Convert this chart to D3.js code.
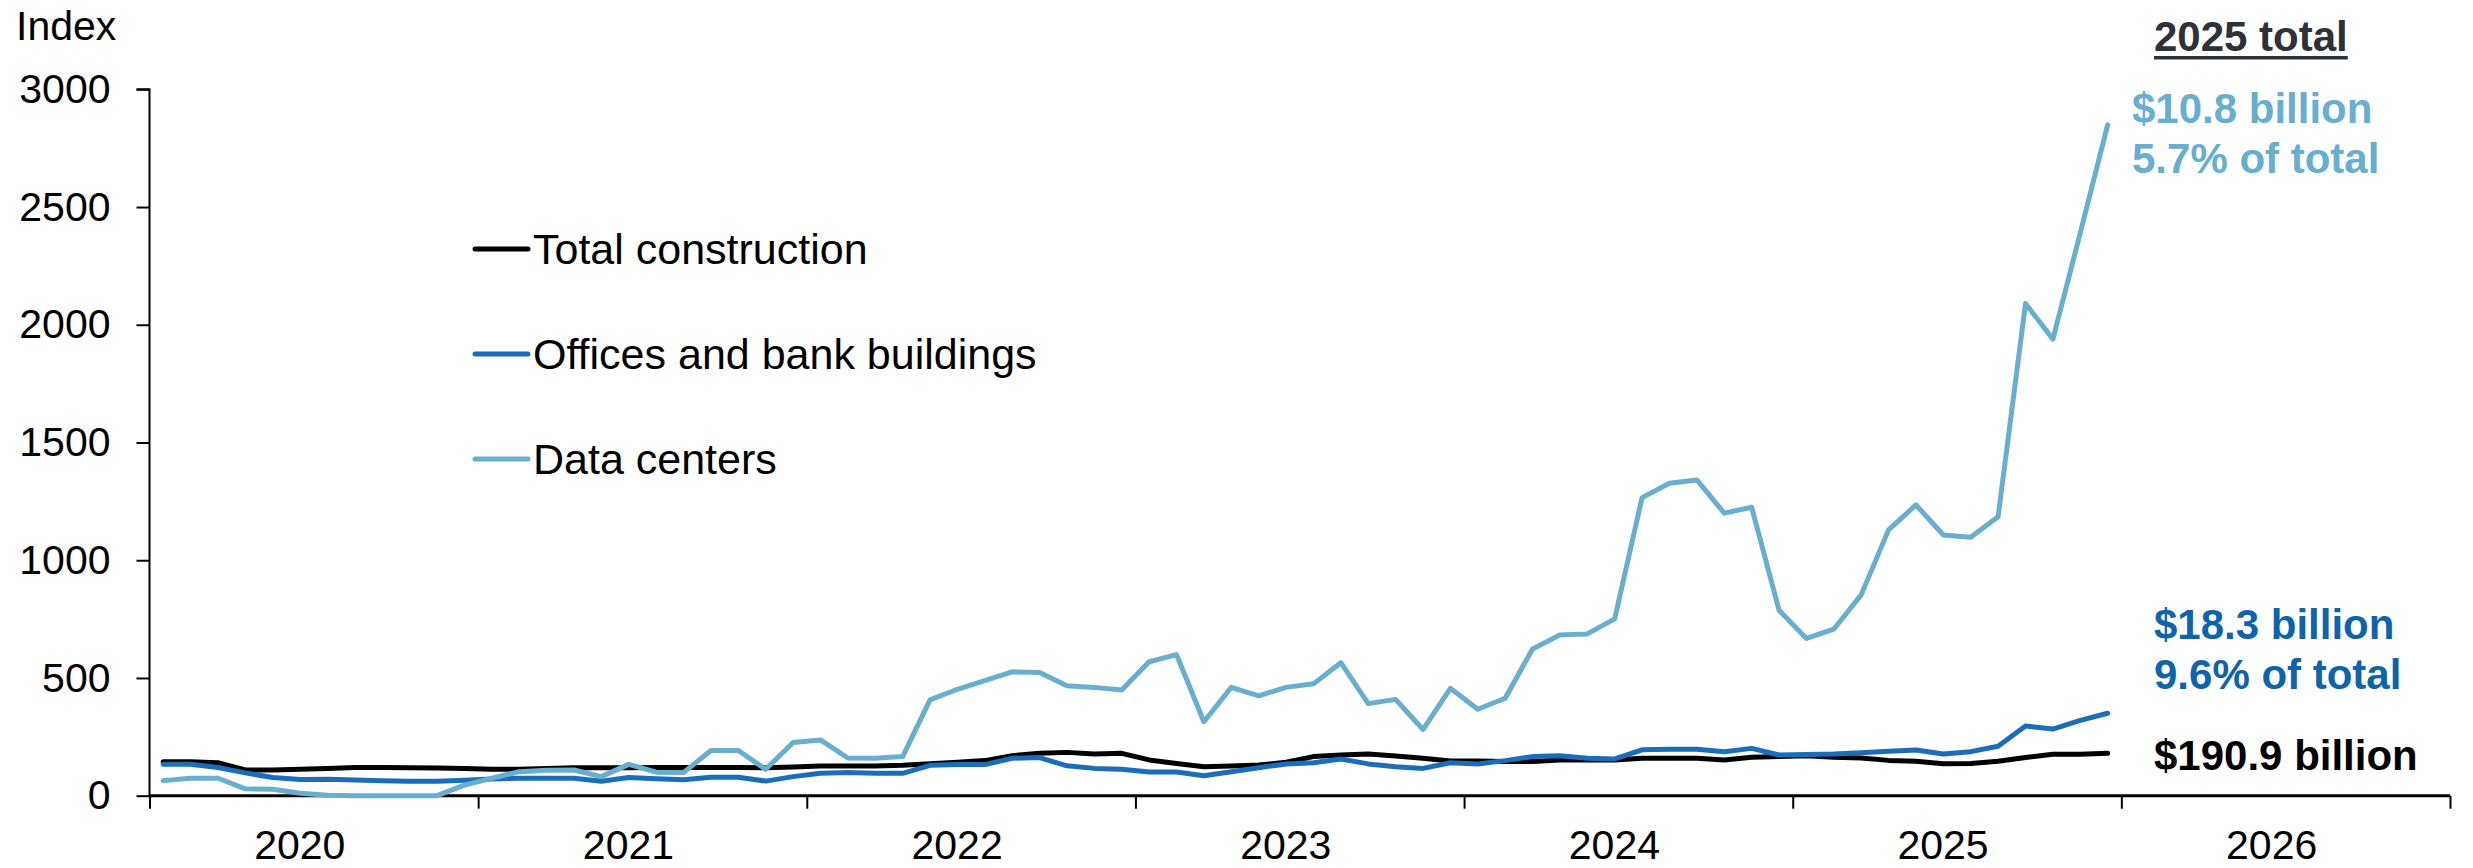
<!DOCTYPE html>
<html><head><meta charset="utf-8">
<script src="https://cdn.jsdelivr.net/npm/d3@7/dist/d3.min.js"></script>
<style>
body{margin:0;background:#fff;}
svg{display:block;}
text{font-family:"Liberation Sans",Arial,Helvetica,sans-serif;}
</style>
</head><body>
<svg id="chart" width="2473" height="868"></svg>
<script>
// ---------------- DATA ----------------
const years = ["2020","2021","2022","2023","2024","2025","2026"];
const yTicks = [0, 500, 1000, 1500, 2000, 2500, 3000];
// Monthly index values, Jan 2020 – Dec 2025
const totalConstruction = [
 144,144,140,109,109,112,115,120,120,119,118,115,
 112,112,115,119,119,119,120,120,120,120,119,122,
 126,126,126,129,136,142,149,170,180,184,177,180,
 152,137,123,126,130,142,166,173,177,169,159,147,
 147,145,145,152,152,152,159,159,159,152,163,166,
 170,163,160,150,146,136,137,146,162,176,176,180
];
const officesBank = [
 134,134,120,97,77,69,70,67,64,61,61,66,
 71,74,74,74,61,77,72,68,78,78,62,81,
 95,98,95,95,129,132,132,159,162,127,116,112,
 101,101,85,102,119,135,140,156,135,123,116,140,
 135,149,166,170,159,156,195,197,197,187,201,173,
 175,177,182,189,194,177,187,210,296,283,320,350
];
const dataCenters = [
 64,74,74,29,27,10,2,0,0,0,0,45,
 74,102,108,109,81,133,100,98,192,192,112,226,
 237,160,159,166,407,452,489,526,523,467,460,449,
 569,599,314,460,424,460,475,565,391,409,281,456,
 367,414,623,683,687,751,1266,1327,1341,1200,1225,788,
 668,707,853,1129,1235,1107,1098,1185,2090,1939,2390,2849
];
const seriesNames = ["Total construction", "Offices and bank buildings", "Data centers"];
const annoHeader = "2025 total";
const annoDataCenters = ["$10.8 billion", "5.7% of total"];
const annoOffices = ["$18.3 billion", "9.6% of total"];
const annoTotal = ["$190.9 billion"];
const yAxisTitle = "Index";

// ---------------- STYLE / LAYOUT ----------------
const colors = { total: "#000000", offices: "#1c6db9", data: "#67aecf",
                 officesText: "#0e63ab", dataText: "#67aecf", header: "#2e3136" };
const plot = { left: 149.5, right: 2450, top: 89.3, bottom: 795.7 };
const FS_AXIS = 41, FS_LEG = 43, FS_ANN = 42;
const FONT = '"Liberation Sans",Arial,sans-serif';

const svg = d3.select("#chart");

const nMonths = years.length * 12;
const x = d3.scaleLinear().domain([0, nMonths]).range([plot.left, plot.right]);
const y = d3.scaleLinear().domain([0, 3000]).range([plot.bottom, plot.top]);
const xBand = d3.scaleBand().domain(years).range([plot.left - 14, plot.right - 14]).padding(0);

// Y axis
const yAxis = svg.append("g").attr("transform", `translate(${plot.left},0)`)
  .call(d3.axisLeft(y).tickValues(yTicks).tickSize(13).tickPadding(26).tickFormat(d3.format("d")));
yAxis.select(".domain").attr("stroke", "#000").attr("stroke-width", 2).attr("d", `M-13,${plot.top}H0V${plot.bottom}`);
yAxis.selectAll(".tick line").attr("stroke", "#000").attr("stroke-width", 2);
yAxis.selectAll(".tick text").attr("font-size", FS_AXIS).attr("fill", "#000").attr("font-family", FONT);

// X axis ticks (year boundaries)
const monthTicks = d3.range(0, nMonths + 1, 12);
const xAxis = svg.append("g").attr("transform", `translate(0,${plot.bottom})`)
  .call(d3.axisBottom(x).tickValues(monthTicks).tickSize(13).tickFormat(""));
xAxis.select(".domain").attr("stroke", "#000").attr("stroke-width", 3).attr("d", `M${plot.left},0H${plot.right}`);
xAxis.selectAll(".tick line").attr("stroke", "#000").attr("stroke-width", 2);

// X axis labels (centered in each year)
const xLab = svg.append("g").attr("transform", `translate(0,${plot.bottom})`)
  .call(d3.axisBottom(xBand).tickSize(0).tickPadding(34));
xLab.select(".domain").remove();
xLab.selectAll(".tick text").attr("font-size", FS_AXIS).attr("fill", "#000").attr("font-family", FONT);

// Y axis title
svg.append("text").attr("x", 16).attr("y", 40).attr("font-size", FS_AXIS).attr("fill", "#000").text(yAxisTitle);

// Lines
const line = d3.line().x((d, i) => x(i + 0.5)).y(d => y(d));
const series = [
  { name: seriesNames[0], values: totalConstruction, color: colors.total },
  { name: seriesNames[1], values: officesBank, color: colors.offices },
  { name: seriesNames[2], values: dataCenters, color: colors.data }
];
svg.append("g").selectAll("path").data(series).join("path")
  .attr("d", d => line(d.values))
  .attr("fill", "none").attr("stroke", d => d.color)
  .attr("stroke-width", 5).attr("stroke-linejoin", "round").attr("stroke-linecap", "round");

// Legend
const legend = svg.append("g").attr("transform", "translate(473,249)");
const li = legend.selectAll("g").data(series).join("g")
  .attr("transform", (d, i) => `translate(0,${i * 105})`);
li.append("line").attr("x1", 2).attr("x2", 55).attr("y1", 0).attr("y2", 0)
  .attr("stroke", d => d.color).attr("stroke-width", 5).attr("stroke-linecap", "round");
li.append("text").attr("x", 60).attr("y", 0).attr("dy", "0.35em")
  .attr("font-size", FS_LEG).attr("fill", "#000").text(d => d.name);

// Annotations
const hdr = svg.append("text").attr("x", 2154).attr("y", 50.7).attr("font-size", FS_ANN)
  .attr("font-weight", "bold").attr("fill", colors.header).text(annoHeader);
const hb = hdr.node().getBBox();
svg.append("rect").attr("x", hb.x).attr("y", 56).attr("width", hb.width).attr("height", 3.5).attr("fill", colors.header);

function block(lines, x0, y0, color) {
  svg.append("g").selectAll("text").data(lines).join("text")
    .attr("x", x0).attr("y", (d, i) => y0 + i * 49.5)
    .attr("font-size", FS_ANN).attr("font-weight", "bold").attr("fill", color).text(d => d);
}
block(annoDataCenters, 2132, 123, colors.dataText);
block(annoOffices, 2154, 639, colors.officesText);
block(annoTotal, 2154, 770, "#000");
</script>
</body></html>
